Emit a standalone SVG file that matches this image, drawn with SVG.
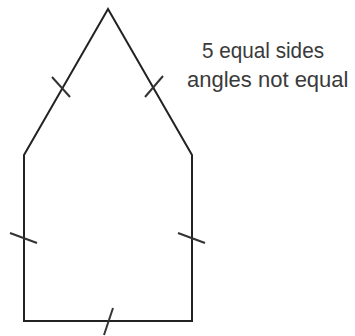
<svg xmlns="http://www.w3.org/2000/svg" width="355" height="336" viewBox="0 0 355 336">
<style>
.edge{fill:none;stroke:#222;stroke-width:2;stroke-linejoin:miter}
.tick{stroke:#333;stroke-width:2}
.lbl{font-family:"Liberation Sans",Arial,sans-serif;font-size:22px;fill:#3a3a3a}
</style>
<rect width="355" height="336" fill="#fff"/>
<g id="pentagon">
<path class="edge" d="M24,321 L24,155 L108,9 L192,155 L192,321 Z"/>
</g>
<g id="ticks">
<line class="tick" x1="52" y1="77" x2="70" y2="97"/>
<line class="tick" x1="163" y1="76" x2="145" y2="97"/>
<line class="tick" x1="10" y1="233" x2="37" y2="243"/>
<line class="tick" x1="178" y1="233" x2="205" y2="243"/>
<line class="tick" x1="113" y1="308" x2="104" y2="335"/>
</g>
<g id="label">
<text class="lbl" x="202" y="58" textLength="122" lengthAdjust="spacingAndGlyphs">5 equal sides</text>
<text class="lbl" x="187" y="87">angles not equal</text>
</g>
</svg>
